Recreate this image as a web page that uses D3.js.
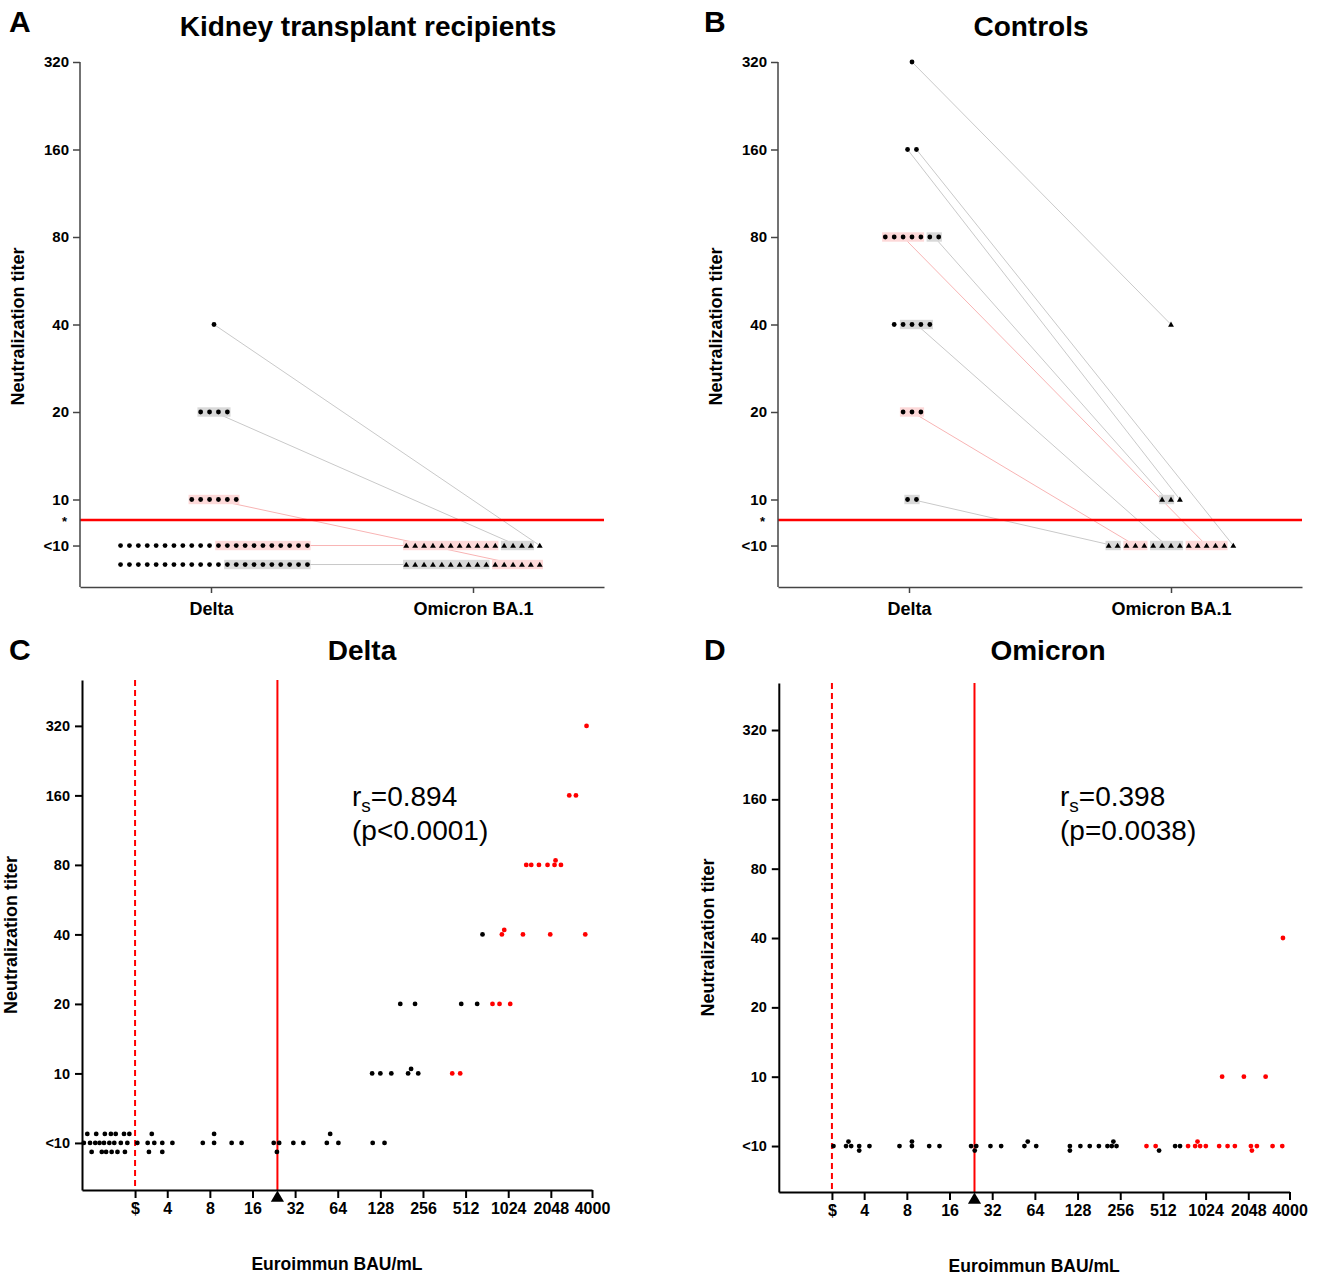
<!DOCTYPE html>
<html>
<head>
<meta charset="utf-8">
<script src="https://cdn.jsdelivr.net/npm/d3@7.9.0/dist/d3.min.js"></script>
<style>
  body { margin: 0; background: #fff; }
  text { font-family: Arial, "Liberation Sans", sans-serif; }
</style>
</head>
<body>
<svg id="fig" width="1319" height="1275"></svg>
<script>
// ---- data ----
const variants = ['Delta', 'Omicron BA.1'];
const titerLabels = ['<10', '10', '20', '40', '80', '160', '320'];
const titerValues = [5, 10, 20, 40, 80, 160, 320]; // 5 stands for "<10"
const cutoffTiter = 8.5; // the "*" line

// paired panels: [id, variant, titer, row, count, highlight]
const ktrSegments = [
  ['d40', 'Delta', 40, 1, 1, ''],
  ['d20', 'Delta', 20, 1, 4, 'gray'],
  ['d10', 'Delta', 10, 1, 6, 'pink'],
  ['d5a', 'Delta', 5, 1, 11, ''],
  ['d5b', 'Delta', 5, 1, 11, 'pink'],
  ['d5c', 'Delta', 5, 2, 12, ''],
  ['d5d', 'Delta', 5, 2, 10, 'gray'],
  ['o5a', 'Omicron BA.1', 5, 1, 11, 'pink'],
  ['o5b', 'Omicron BA.1', 5, 1, 4, 'gray'],
  ['o5c', 'Omicron BA.1', 5, 1, 1, ''],
  ['o5d', 'Omicron BA.1', 5, 2, 10, 'gray'],
  ['o5e', 'Omicron BA.1', 5, 2, 6, 'pink'],
];
const ktrLinks = [['d40', 'o5c'], ['d20', 'o5b'], ['d10', 'o5e'], ['d5b', 'o5a'], ['d5d', 'o5d']];

const controlSegments = [
  ['d320', 'Delta', 320, 1, 1, ''],
  ['d160a', 'Delta', 160, 1, 1, ''],
  ['d160b', 'Delta', 160, 1, 1, ''],
  ['d80a', 'Delta', 80, 1, 5, 'pink'],
  ['d80b', 'Delta', 80, 1, 2, 'gray'],
  ['d40a', 'Delta', 40, 1, 1, ''],
  ['d40b', 'Delta', 40, 1, 4, 'gray'],
  ['d20', 'Delta', 20, 1, 3, 'pink'],
  ['d10', 'Delta', 10, 1, 2, 'gray'],
  ['o40', 'Omicron BA.1', 40, 1, 1, ''],
  ['o10a', 'Omicron BA.1', 10, 1, 2, 'gray'],
  ['o10b', 'Omicron BA.1', 10, 1, 1, ''],
  ['o5a', 'Omicron BA.1', 5, 1, 2, 'gray'],
  ['o5b', 'Omicron BA.1', 5, 1, 3, 'pink'],
  ['o5c', 'Omicron BA.1', 5, 1, 4, 'gray'],
  ['o5d', 'Omicron BA.1', 5, 1, 5, 'pink'],
  ['o5e', 'Omicron BA.1', 5, 1, 1, ''],
];
const controlLinks = [['d320', 'o40'], ['d160a', 'o10b'], ['d160b', 'o5e'], ['d80b', 'o10a'],
  ['d80a', 'o5d'], ['d40b', 'o5c'], ['d20', 'o5b'], ['d10', 'o5a']];

// scatter panels: [BAU/mL, titer]
const deltaKtr = [
  [1.03, 5], [1.09, 5], [1.14, 5], [1.17, 5], [1.24, 5], [1.26, 5], [1.33, 5], [1.38, 5], [1.43, 5],
  [1.45, 5], [1.48, 5], [1.56, 5], [1.60, 5], [1.62, 5], [1.69, 5], [1.73, 5], [1.78, 5], [1.88, 5],
  [1.98, 5], [2.01, 5], [2.09, 5], [2.16, 5], [2.46, 5], [2.91, 5], [2.97, 5], [3.11, 5], [3.24, 5],
  [3.69, 5], [3.69, 5], [4.35, 5], [7.13, 5], [8.57, 5], [8.57, 5], [11.4, 5], [13.4, 5], [22.6, 5],
  [23.8, 5], [24.7, 5], [31.1, 5], [36.6, 5], [53.6, 5], [56.6, 5], [64.7, 5], [113, 5], [137, 5],
  [112, 10], [128, 10], [153, 10], [201, 10], [211, 10], [237, 10],
  [177, 20], [225, 20], [477, 20], [618, 20],
  [674, 40],
];
const deltaControls = [
  [412, 10], [469, 10],
  [793, 20], [889, 20], [1058, 20],
  [924, 40], [960, 40], [1301, 40], [2028, 40], [3585, 40],
  [1373, 80], [1489, 80], [1688, 80], [1941, 80], [2175, 80], [2211, 80], [2414, 80],
  [2763, 160], [3081, 160],
  [3660, 320],
];
const omicronKtr = [
  [2.43, 5], [2.98, 5], [3.10, 5], [3.24, 5], [3.69, 5], [3.69, 5], [4.36, 5], [7.10, 5], [8.69, 5],
  [8.69, 5], [11.5, 5], [13.6, 5], [22.7, 5], [24.1, 5], [24.7, 5], [31.1, 5], [37.0, 5], [54.0, 5],
  [57.0, 5], [65.4, 5], [113, 5], [113, 5], [134, 5], [156, 5], [181, 5], [208, 5], [223, 5],
  [229, 5], [241, 5], [481, 5], [624, 5], [676, 5],
];
const omicronControls = [
  [392, 5], [455, 5], [770, 5], [864, 5], [898, 5], [937, 5], [1028, 5], [1276, 5], [1463, 5],
  [1647, 5], [2137, 5], [2172, 5], [2356, 5], [3040, 5], [3556, 5],
  [1339, 10], [1907, 10], [2714, 10],
  [3596, 40],
];
const bauTicks = [2.37, 4, 8, 16, 32, 64, 128, 256, 512, 1024, 2048, 4000];
const bauTickLabels = ['$', '4', '8', '16', '32', '64', '128', '256', '512', '1024', '2048', '4000'];
const bauLow = 2.37;   // dashed line
const bauCutoff = 24;  // solid line

const svg = d3.select('#fig');
const RED = '#ff0000';
const hlFill = { pink: '#fdd9d9', gray: '#d9d9d9' };
const hlLine = { pink: '#f8b4b4', gray: '#c9c9c9' };

const levelOf = (titer, low) => titer < 10 ? low : Math.log2(titer / 10) + 1;

function label(x, y, txt, size, opts = {}) {
  return svg.append('text').attr('x', x).attr('y', y).text(txt)
    .attr('font-size', size).attr('font-weight', opts.weight || 'bold')
    .attr('text-anchor', opts.anchor || 'start');
}

function styleAxis(ax, color, width, fontSize) {
  ax.attr('font-family', 'Arial, "Liberation Sans", sans-serif').attr('font-size', fontSize).attr('font-weight', 'bold');
  ax.selectAll('path, line').attr('stroke', color).attr('stroke-width', width);
  ax.selectAll('text').attr('fill', '#000');
}

function drawPaired(cfg) {
  const g = svg.append('g');
  const x = d3.scalePoint().domain(variants).range([cfg.left, cfg.right]).padding(0.5);
  const y = d3.scaleLinear().domain([0, 6]).range([cfg.bottom, cfg.top]);
  const low = 0.474;
  const yPos = (titer, row) => y(levelOf(titer, low)) + (row - 1) * 19;
  const cutY = y(Math.log2(cutoffTiter / 10) + 1);

  const pos = {};
  d3.group(cfg.segments, d => d[1] + '|' + d[2] + '|' + d[3]).forEach(segs => {
    const total = d3.sum(segs, s => s[4]);
    const shift = segs[0][1] === 'Delta' ? 3 : 0;
    let i = 0;
    segs.forEach(s => {
      const xs = d3.range(s[4]).map(k => x(s[1]) + shift + (i + k - (total - 1) / 2) * 8.9);
      i += s[4];
      pos[s[0]] = { xs, y: yPos(s[2], s[3]), hl: s[5], variant: s[1], cx: d3.mean(xs) };
    });
  });

  // connecting lines
  cfg.links.forEach(([a, b]) => {
    const s = pos[a], t = pos[b];
    g.append('line').attr('x1', s.cx).attr('y1', s.y).attr('x2', t.cx).attr('y2', t.y)
      .attr('stroke', hlLine[s.hl] || hlLine.gray).attr('stroke-width', 1);
  });

  // highlight boxes
  Object.values(pos).filter(p => p.hl).forEach(p => {
    g.append('rect').attr('x', p.xs[0] - 3.2).attr('y', p.y - 4.7)
      .attr('width', p.xs[p.xs.length - 1] - p.xs[0] + 6.4).attr('height', 9.4)
      .attr('fill', hlFill[p.hl]);
  });

  // markers
  const tri = d3.symbol().type(d3.symbolTriangle).size(15);
  Object.values(pos).forEach(p => {
    p.xs.forEach(px => {
      if (p.variant === 'Delta') {
        g.append('circle').attr('cx', px).attr('cy', p.y).attr('r', 2.4).attr('fill', '#000');
      } else {
        g.append('path').attr('d', tri()).attr('transform', `translate(${px},${p.y + 0.5})`).attr('fill', '#000');
      }
    });
  });

  // cutoff line
  g.append('line').attr('x1', cfg.left).attr('x2', cfg.right).attr('y1', cutY).attr('y2', cutY)
    .attr('stroke', RED).attr('stroke-width', 2.6);

  const yAx = g.append('g').attr('transform', `translate(${cfg.left},0)`)
    .call(d3.axisLeft(y).tickValues(titerValues.map(v => levelOf(v, low)))
      .tickFormat((d, i) => titerLabels[i]).tickSize(7).tickSizeOuter(0).tickPadding(4));
  styleAxis(yAx, '#444', 1.5, 15);
  yAx.select('.domain').attr('d', `M0,${cfg.top}V${cfg.bottom}`);

  const xAx = g.append('g').attr('transform', `translate(0,${cfg.bottom})`)
    .call(d3.axisBottom(x).tickSize(6).tickSizeOuter(0).tickPadding(9));
  styleAxis(xAx, '#444', 1.5, 18);

  label(cfg.left - 13, cutY + 6, '*', 13, { anchor: 'end' });
  label(cfg.left - 56, (cfg.top + cfg.bottom) / 2 + 2, 'Neutralization titer', 18, { anchor: 'middle' })
    .attr('transform', `rotate(-90,${cfg.left - 56},${(cfg.top + cfg.bottom) / 2 + 2})`);
}

function drawScatter(cfg) {
  const g = svg.append('g');
  const x = d3.scaleLog().base(2).domain([1, 4000]).range([cfg.left, cfg.right]);
  const y = d3.scaleLinear().domain(cfg.levels).range([cfg.bottom, cfg.top]);

  const pts = [
    ...cfg.ktr.map(d => ({ bau: d[0], titer: d[1], color: '#000' })),
    ...cfg.controls.map(d => ({ bau: d[0], titer: d[1], color: RED })),
  ];
  // spread overlapping points over three lanes (middle first, then the roomier side lane)
  const minDx = 4.2;
  d3.group(pts, d => d.titer).forEach(list => {
    list.sort((a, b) => a.bau - b.bau);
    const last = { '0': -Infinity, '-1': -Infinity, '1': -Infinity };
    list.forEach(p => {
      p.cx = x(p.bau);
      const gap = l => p.cx - last[l];
      let lane = 0;
      if (gap(0) < minDx) {
        lane = gap(-1) >= gap(1) ? -1 : 1;
        if (gap(lane) < minDx && gap(0) > gap(lane)) lane = 0;
      }
      last[lane] = p.cx;
      p.lane = lane;
    });
  });

  const top = cfg.top, bottom = cfg.bottom;
  g.append('line').attr('x1', x(bauLow)).attr('x2', x(bauLow)).attr('y1', top).attr('y2', bottom)
    .attr('stroke', RED).attr('stroke-width', 2).attr('stroke-dasharray', '6,4');
  g.append('line').attr('x1', x(bauCutoff)).attr('x2', x(bauCutoff)).attr('y1', top).attr('y2', bottom)
    .attr('stroke', RED).attr('stroke-width', 2);

  g.selectAll('circle.pt').data(pts).join('circle').attr('class', 'pt')
    .attr('cx', d => d.cx)
    .attr('cy', d => y(levelOf(d.titer, 0)) + d.lane * cfg.laneGap(d.titer))
    .attr('r', 2.4).attr('fill', d => d.color);

  const yAx = g.append('g').attr('transform', `translate(${cfg.left},0)`)
    .call(d3.axisLeft(y).tickValues(titerValues.map(v => levelOf(v, 0)))
      .tickFormat((d, i) => titerLabels[i]).tickSize(7).tickSizeOuter(0).tickPadding(5));
  styleAxis(yAx, '#000', 2, 14.5);

  const xAx = g.append('g').attr('transform', `translate(0,${bottom})`)
    .call(d3.axisBottom(x).tickValues(bauTicks).tickFormat((d, i) => bauTickLabels[i])
      .tickSize(8).tickSizeOuter(0).tickPadding(5));
  styleAxis(xAx, '#000', 2, 16);

  // cutoff marker under the axis
  g.append('path').attr('d', d3.symbol().type(d3.symbolTriangle).size(75)())
    .attr('transform', `translate(${x(bauCutoff)},${bottom + 8})`).attr('fill', '#000');

  const t = label(cfg.statX, cfg.statY, '', 28, { weight: 'normal' });
  t.append('tspan').text('r');
  t.append('tspan').text('s').attr('font-size', 19).attr('dy', 6);
  t.append('tspan').text('=' + cfg.rs).attr('dy', -6);
  label(cfg.statX, cfg.statY + 34, cfg.p, 28, { weight: 'normal' });

  label(cfg.left - 65, (top + bottom) / 2, 'Neutralization titer', 18, { anchor: 'middle' })
    .attr('transform', `rotate(-90,${cfg.left - 65},${(top + bottom) / 2})`);
  label((cfg.left + cfg.right) / 2, bottom + 80, 'Euroimmun BAU/mL', 17.5, { anchor: 'middle' });
}

drawPaired({ left: 80, right: 604, top: 62, bottom: 587, segments: ktrSegments, links: ktrLinks });
drawPaired({ left: 778, right: 1302, top: 62, bottom: 587, segments: controlSegments, links: controlLinks });

drawScatter({
  left: 82, right: 592, top: 680, bottom: 1190, levels: [-0.677, 6.66],
  ktr: deltaKtr, controls: deltaControls, laneGap: t => t < 10 ? 9 : 4.5,
  statX: 352, statY: 806, rs: '0.894', p: '(p<0.0001)',
});
drawScatter({
  left: 778.8, right: 1289.5, top: 683, bottom: 1192, levels: [-0.663, 6.678],
  ktr: omicronKtr, controls: omicronControls, laneGap: () => 4.5,
  statX: 1060, statY: 806, rs: '0.398', p: '(p=0.0038)',
});

// titles and panel letters
label(368, 36, 'Kidney transplant recipients', 28, { anchor: 'middle' });
label(1031, 36, 'Controls', 28, { anchor: 'middle' });
label(362, 660, 'Delta', 28, { anchor: 'middle' });
label(1048, 660, 'Omicron', 28, { anchor: 'middle' });
label(9, 32, 'A', 30);
label(704, 32, 'B', 30);
label(9, 660, 'C', 30);
label(704, 660, 'D', 30);
</script>
</body>
</html>
